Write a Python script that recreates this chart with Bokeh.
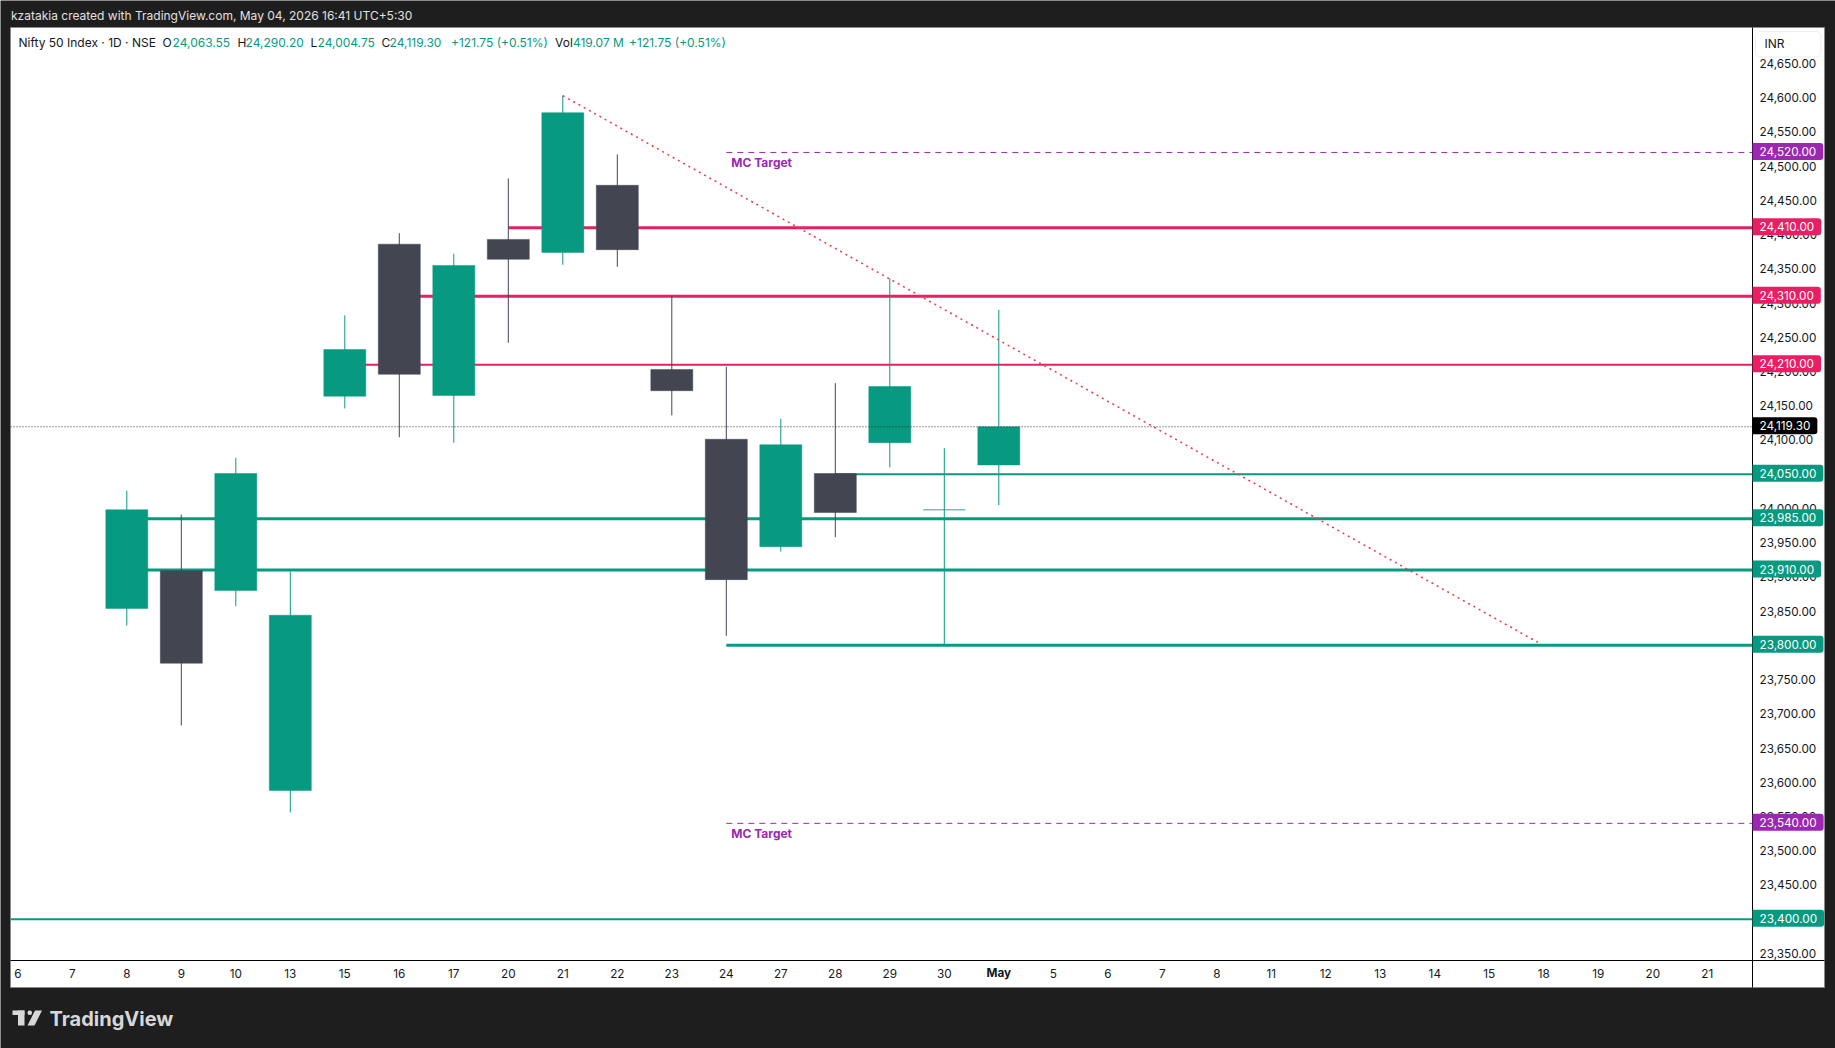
from bokeh.plotting import figure
from bokeh.models import (Range1d, FixedTicker, NumeralTickFormatter, Label, BoxAnnotation,
                          PolyAnnotation, ColumnDataSource)
from bokeh.embed import file_html
from bokeh.resources import INLINE

# ---- data ----
x_labels = ["6","7","8","9","10","13","15","16","17","20","21","22","23","24","27","28","29","30",
            "May","5","6","7","8","11","12","13","14","15","18","19","20","21"]
candle_idx = [2,3,4,5,6,7,8,9,10,11,12,13,14,15,16,17,18]
opens  = [23854,23909,23880,23588,24164,24386,24165,24393,24374,24472,24203,24101,23944,24051,24096,23998,24063.55]
highs  = [24026,23991,24074,23908,24282,24402,24372,24482,24603,24517,24311,24207,24131,24183,24336,24088,24290.20]
lows   = [23829,23683,23857,23556,24146,24104,24096,24242,24356,24353,24136,23814,23937,23958,24060,23801,24004.75]
closes = [23998,23774,24051,23844,24232,24196,24355,24364,24578,24378,24172,23896,24093,23994,24178,23998,24119.30]

level_prices = [24410,24310,24210,24050,23985,23910,23800,23400]
level_starts = [9,7,6,15,2,2,13,-0.134]
level_widths = [3,3,2,2,3,3,3,2]
level_colors = ["#e91e63","#e91e63","#e91e63","#089981","#089981","#089981","#089981","#089981"]

target_prices = [24520,23540]
target_start = 13
last_price = 24119.30
trend_x = [10,27.9]
trend_y = [24603,23804]
y_ticks = [23350+50*i for i in range(27)]

GREEN, DARK, PINK, PURPLE = "#089981", "#434651", "#e91e63", "#9c27b0"
BG = "#1e1e1e"
FONT = "Inter"
AXIS_SIZE = "11.75px"

# ---- figure: the frame is the whole canvas, axes sit at fixed locations ----
W, H = 1835, 1048
L, R, T, B, RP, BP = 10, 1752, 27, 960, 1824, 987   # panel edges in page pixels
X0, DX = 17.3, 54.5         # pixel of category 0, pixels per category
Y0, PY = 918.7, 0.6846      # pixel of price 23400, pixels per price unit
def dx(px): return (px-X0)/DX
def dy(py): return 23400+(Y0-py)/PY

x_rng = Range1d(dx(0), dx(W))
y_rng = Range1d(dy(H), dy(0))
p = figure(width=W, height=H, output_backend="svg", toolbar_location=None,
           x_range=x_rng, y_range=y_rng, y_axis_location="right",
           min_border_left=0, min_border_top=0, min_border_right=0, min_border_bottom=0)
p.border_fill_color = BG
p.background_fill_color = BG
p.outline_line_color = None
p.xgrid.visible = False
p.ygrid.visible = False

def sx(px): return px
def sy(py): return H-py

def box(l, r, t, b, fill="white", line=None, level="annotation", lw=1, radius=0):
    return BoxAnnotation(left=l, right=r, top=t, bottom=b,
                         left_units="canvas", right_units="canvas", top_units="canvas", bottom_units="canvas",
                         fill_color=fill, fill_alpha=1, line_color=line, line_alpha=1 if line else 0, line_width=lw,
                         level=level, border_radius=radius, editable=False)

def txt(px, py, s, color="#131722", size=12, style="normal", **kw):
    return Label(x=sx(px), y=sy(py), x_units="screen", y_units="screen", text=s, text_color=color,
                 text_font=FONT, text_font_size=f"{size}px", text_font_style=style,
                 text_baseline="middle", **kw)

# white panel behind chart and axes
p.add_layout(box(L, RP, T, BP, fill="white", line="#8a8a8a", level="underlay"))

# axes
ya = p.yaxis[0]
ya.fixed_location = dx(R)
ya.bounds = (dy(BP), dy(T))
ya.ticker = FixedTicker(ticks=y_ticks)
ya.formatter = NumeralTickFormatter(format="0,0.00")
ya.axis_line_color = "black"
ya.major_tick_line_color = None
ya.minor_tick_line_color = None
ya.major_tick_out = 0
ya.major_label_standoff = 7
ya.major_label_text_font = FONT
ya.major_label_text_font_size = AXIS_SIZE
ya.major_label_text_color = "#131722"

xa = p.xaxis[0]
xa.fixed_location = dy(B)
xa.bounds = (dx(L), dx(RP))
xa.ticker = FixedTicker(ticks=list(range(len(x_labels))))
xa.major_label_overrides = {i: ("" if s == "May" else s) for i, s in enumerate(x_labels)}
xa.axis_line_color = "black"
xa.major_tick_line_color = None
xa.minor_tick_line_color = None
xa.major_tick_out = 0
xa.major_label_standoff = 8
xa.major_label_text_font = FONT
xa.major_label_text_font_size = AXIS_SIZE
xa.major_label_text_color = "#131722"

# horizontal levels (under the candles)
x_end = dx(R)
p.segment(x0=level_starts, x1=[x_end]*len(level_prices), y0=level_prices, y1=level_prices,
          line_color=level_colors, line_width=level_widths)
p.segment(x0=[target_start]*2, x1=[x_end]*2, y0=target_prices, y1=target_prices,
          line_color=PURPLE, line_width=1, line_dash="6 5")

# candles
colors = [GREEN if c >= o else DARK for o, c in zip(opens, closes)]
src = ColumnDataSource(dict(x=candle_idx, o=opens, h=highs, l=lows, c=closes, col=colors))
p.segment(x0="x", x1="x", y0="l", y1="h", source=src, line_color="col", line_width=1)
p.vbar(x="x", width=0.77, top="o", bottom="c", source=src, fill_color="col", line_color="col", line_width=0.5)

# trend line and last price line
p.line(trend_x, trend_y, line_color="#f23645", line_width=1.5, line_dash="2 4")
p.segment(x0=[dx(L)], x1=[x_end], y0=[last_price], y1=[last_price],
          line_color="#333333", line_width=1, line_dash="1 2")

# MC Target labels
for v in target_prices:
    p.add_layout(Label(x=target_start, y=v, text="MC Target", text_color=PURPLE, text_font=FONT,
                       text_font_size="12px", text_font_style="bold", x_offset=5, y_offset=-10,
                       text_baseline="middle"))

# price badges
badges = [(v, c) for v, c in zip(level_prices, level_colors)] + [(v, PURPLE) for v in target_prices] + [(last_price, "#000000")]
for v, c in badges:
    p.add_layout(Label(x=sx(R), y=v, x_units="screen", y_units="data", text=f"{v:,.2f}", text_color="white",
                       text_font=FONT, text_font_size=AXIS_SIZE, text_baseline="middle", y_offset=1,
                       background_fill_color=c, background_fill_alpha=1, padding=(7, 4),
                       border_radius=(0, 3, 3, 0)))

# currency box
p.add_layout(box(1755, 1820.5, 31, 56.5, fill="white", line="#eeeeee", radius=5))
p.add_layout(txt(1764, 43, "INR", size=12))

# May tick label (bold)
p.add_layout(Label(x=18, y=sy(972.8), y_units="screen", text="May", text_color="#131722", text_font=FONT,
                   text_font_size=AXIS_SIZE, text_font_style="bold", text_align="center", text_baseline="middle"))

# legend row
row = [(18,"Nifty 50 Index · 1D · NSE","#131722"),(162,"O","#131722"),(172,"24,063.55",GREEN),
       (237,"H","#131722"),(245,"24,290.20",GREEN),(310,"L","#131722"),(317,"24,004.75",GREEN),
       (381,"C","#131722"),(389,"24,119.30",GREEN),(450.5,"+121.75 (+0.51%)",GREEN),
       (554.6,"Vol","#131722"),(572.4,"419.07 M",GREEN),(628.6,"+121.75 (+0.51%)",GREEN)]
for xx, s, c in row:
    p.add_layout(txt(xx, 42, s, color=c, size=12))

# header and logo
p.add_layout(txt(10.5, 15, "kzatakia created with TradingView.com, May 04, 2026 16:41 UTC+5:30", color="#e0e0e0", size=12))
p.add_layout(txt(49, 1018, "TradingView", color="#d8d8d8", size=20, style="bold"))
p.add_layout(box(12, 24, 1010, 1014.5, fill="#d8d8d8"))
p.add_layout(box(17.5, 24, 1010, 1025, fill="#d8d8d8"))
p.add_layout(box(27, 31.5, 1010, 1014.5, fill="#d8d8d8", radius=2))
p.add_layout(PolyAnnotation(xs=[34.5,41.5,34,27], ys=[1010,1010,1025,1025],
                            xs_units="canvas", ys_units="canvas", fill_color="#d8d8d8", fill_alpha=1,
                            line_color=None, level="annotation"))

open("out.html", "w").write(file_html(p, INLINE))
